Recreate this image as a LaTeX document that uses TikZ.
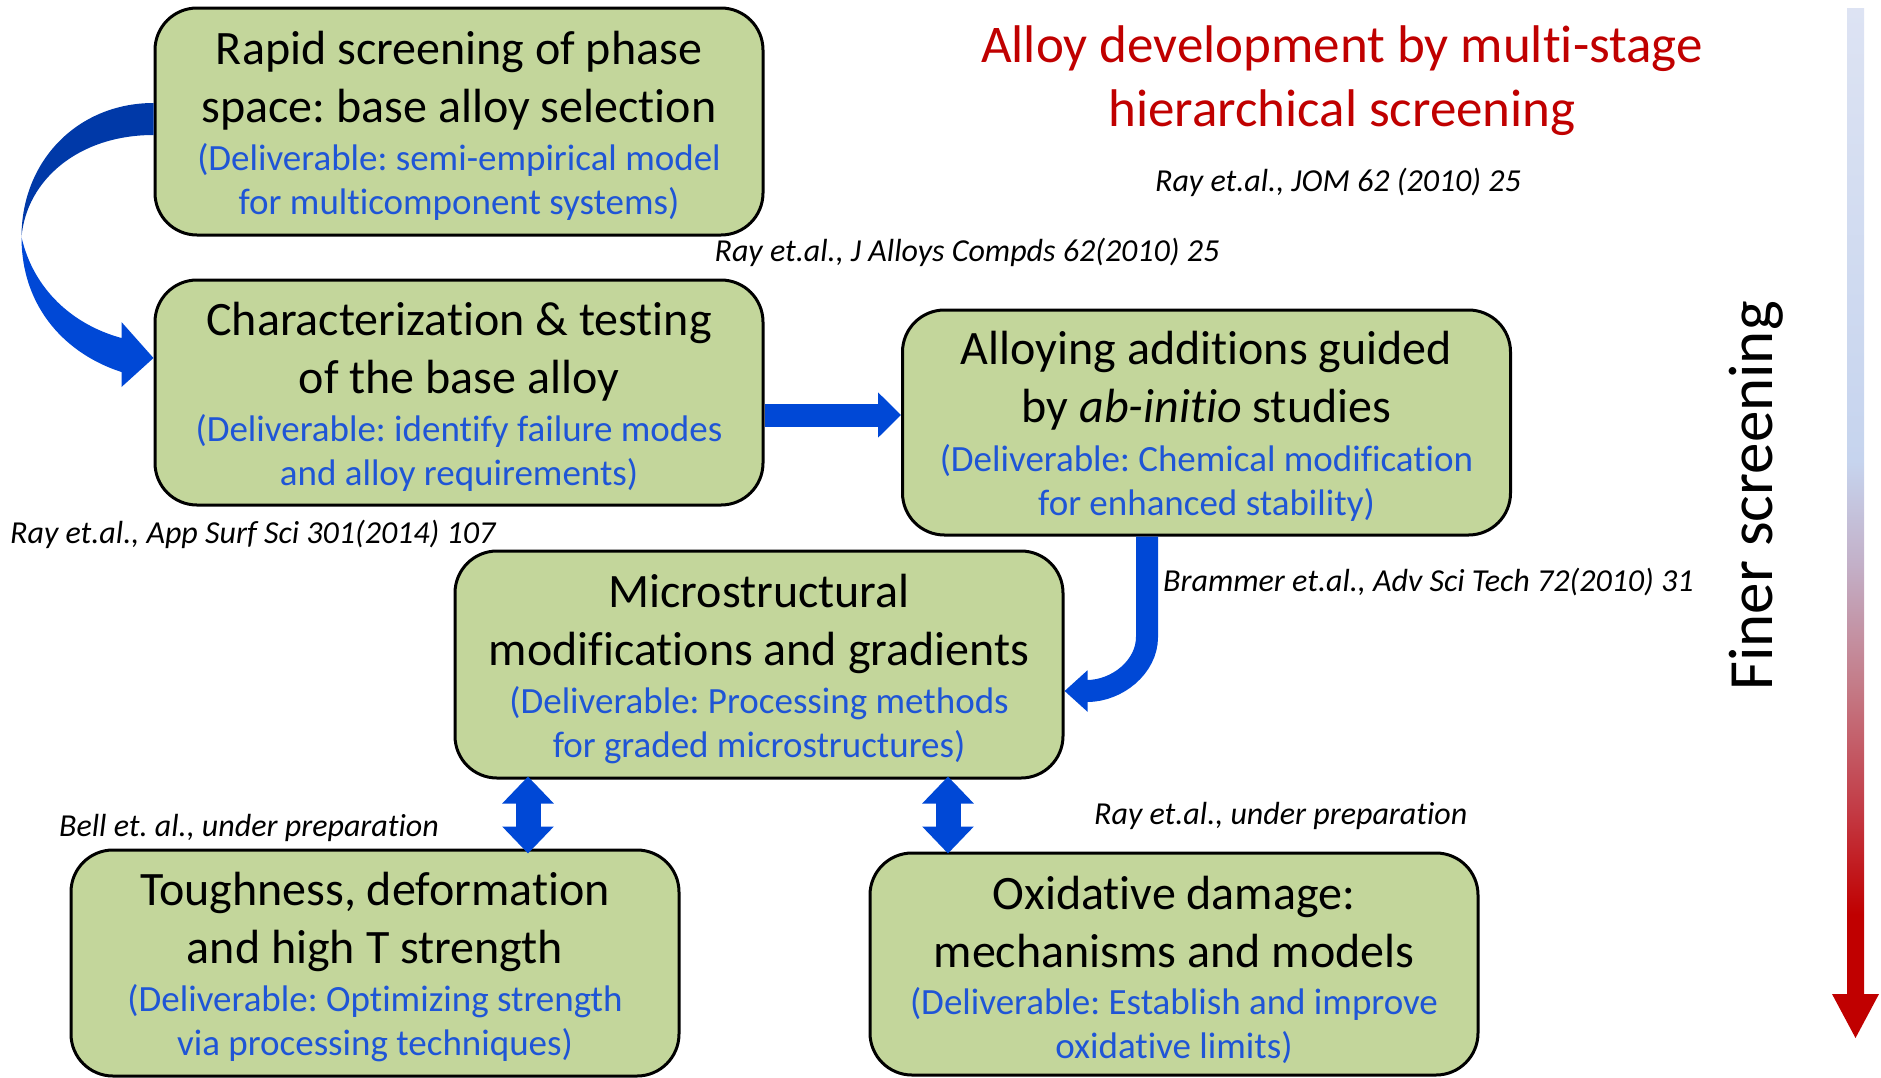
\documentclass[tikz,border=0pt]{standalone}
\usepackage{fontspec}
\setmainfont{Carlito}[Ligatures=NoCommon]
\usetikzlibrary{arrows.meta,calc}
\frenchspacing

\definecolor{boxgreen}{HTML}{C3D69B}
\definecolor{delblue}{HTML}{1F55D6}
\definecolor{blockblue}{HTML}{0048D6}
\definecolor{darkblock}{HTML}{0039A8}
\definecolor{titlered}{HTML}{C00000}
\definecolor{fgA}{HTML}{DDE3F3}
\definecolor{fgB}{HTML}{C6D4EE}
\definecolor{fgC}{HTML}{C3B0C8}
\definecolor{fgD}{HTML}{C47A86}
\definecolor{fgE}{HTML}{C33A44}
\definecolor{fgF}{HTML}{C00000}

% colour ramp of the "finer screening" arrow (path maps to 25bp..75bp)
\pgfdeclareverticalshading{finerramp}{100bp}{%
  color(0bp)=(fgF); color(25bp)=(fgF); color(31bp)=(fgF);
  color(36bp)=(fgE); color(42bp)=(fgD); color(48bp)=(fgC);
  color(53bp)=(fgB); color(75bp)=(fgA); color(100bp)=(fgA)}

\begin{document}
\begin{tikzpicture}[x=1pt,y=-1pt,
  stagebox/.style={draw=black, line width=3pt, fill=boxgreen,
    rounded corners=42pt, minimum width=608pt, inner sep=0pt},
  maintext/.style={font=\fontsize{48}{58}\selectfont, align=center, inner sep=0pt},
  deltext/.style={font=\fontsize{37}{44}\selectfont, text=delblue, align=center, inner sep=0pt},
  reftext/.style={font=\fontsize{32}{38}\selectfont\itshape, inner sep=0pt},
  flowarrow/.style={draw=blockblue, line width=#1},
]
\useasboundingbox (0,0) rectangle (1881,1077);

% ---- stage boxes ----
\node[stagebox, minimum height=227pt] (b1) at (459,121.5) {};
\node[stagebox, minimum height=225pt] (b2) at (459,392.5) {};
\node[stagebox, minimum height=225pt] (b3) at (1206.5,422.5) {};
\node[stagebox, minimum height=227pt] (b4) at (759,664.5) {};
\node[stagebox, minimum height=226pt] (b5) at (375,963) {};
\node[stagebox, minimum height=222pt] (b6) at (1174,964) {};

% ---- box texts ----
\node[maintext] (b1m) at (459,81) {Rapid screening of phase\\space: base alloy selection};
\node[deltext]  (b1d) at (459,182) {(Deliverable: semi-empirical model\\for multicomponent systems)};

\node[maintext] (b2m) at (459,351.5) {Characterization \& testing\\of the base alloy};
\node[deltext]  (b2d) at (459,453) {(Deliverable: identify failure modes\\and alloy requirements)};

\node[maintext] (b3m) at (1206.5,381) {Alloying additions guided\\by \textit{ab-initio} studies};
\node[deltext]  (b3d) at (1206.5,482.5) {(Deliverable: Chemical modification\\for enhanced stability)};

\node[maintext] (b4m) at (759,624) {Microstructural\\modifications and gradients};
\node[deltext]  (b4d) at (759,725.5) {(Deliverable: Processing methods\\for graded microstructures)};

\node[maintext] (b5m) at (375,921.5) {Toughness, deformation\\and high T strength};
\node[deltext]  (b5d) at (375,1023) {(Deliverable: Optimizing strength\\via processing techniques)};

\node[maintext] (b6m) at (1174,922) {Oxidative damage:\\mechanisms and models};
\node[deltext]  (b6d) at (1174,1026) {(Deliverable: Establish and improve\\oxidative limits)};

% ---- title and references ----
\node[font=\fontsize{53}{64}\selectfont, text=titlered, align=center, inner sep=0pt]
  (title) at (1342,80.5) {Alloy development by multi-stage\\hierarchical screening};

\node[reftext] (r1) at (1338,182) {Ray et.al., JOM 62 (2010) 25};
\node[reftext] (r2) at (967,252) {Ray et.al., J Alloys Compds 62(2010) 25};
\node[reftext, anchor=west] (r3) at (10,534) {Ray et.al., App Surf Sci 301(2014) 107};
\node[reftext, anchor=west] (r4) at (1163,582) {Brammer et.al., Adv Sci Tech 72(2010) 31};
\node[reftext, anchor=west] (r5) at (59,828) {Bell et. al., under preparation};
\node[reftext, anchor=west] (r6) at (1094,816) {Ray et.al., under preparation};

% ---- finer screening scale ----
\node[font=\fontsize{63}{76}\selectfont, rotate=90, inner sep=0pt] (finer) at (1756,496) {Finer screening};
\shade[shading=finerramp] (1847,8) -- (1864,8) -- (1864,994) -- (1879,994)
  -- (1855.5,1038) -- (1832,994) -- (1847,994) -- cycle;

% ---- curved arrow from stage 1 round to stage 2 ----
\begin{scope}[shift={(b1.west)}]
  \fill[darkblock] (0,-18.5) .. controls (-75,-18.5) and (-132,38.5) .. (-132,115.5)
    .. controls (-127,58.5) and (-75,13.5) .. (0,13.5) -- cycle;
  \fill[blockblue] (-132,115.5) .. controls (-132,188.5) and (-85,233.5) .. (-32,250.5)
    -- (-32,265.5) -- (0,236.5) -- (-32,200.5) -- (-32,216.5)
    .. controls (-80,203.5) and (-120,168.5) .. (-132,115.5) -- cycle;
\end{scope}

% ---- straight and bent block arrows ----
\coordinate (rowA) at (0,415);
\draw[flowarrow=23pt, -{Triangle[length=23pt,width=44pt]}]
  (b2.east |- rowA) -- (b3.west |- rowA);

\coordinate (bendx) at (1147,0);
\coordinate (bendy) at (0,691);
\draw[flowarrow=22pt, -{Triangle[length=23pt,width=40pt]}]
  (b3.south -| bendx) -- (1147,637) .. controls (1147,667) and (1117,691) .. (1087,691)
  -- (b4.east |- bendy);

% ---- double arrows ----
\coordinate (dl) at (528,0);
\coordinate (dr) at (948,0);
\draw[flowarrow=25pt, {Triangle[length=27pt,width=50pt]}-{Triangle[length=27pt,width=50pt]}]
  ($(b4.south -| dl)+(0,-3)$) -- ($(b5.north -| dl)+(0,5)$);
\draw[flowarrow=25pt, {Triangle[length=27pt,width=50pt]}-{Triangle[length=27pt,width=50pt]}]
  ($(b4.south -| dr)+(0,-3)$) -- ($(b6.north -| dr)+(0,2)$);
\end{tikzpicture}
\end{document}
